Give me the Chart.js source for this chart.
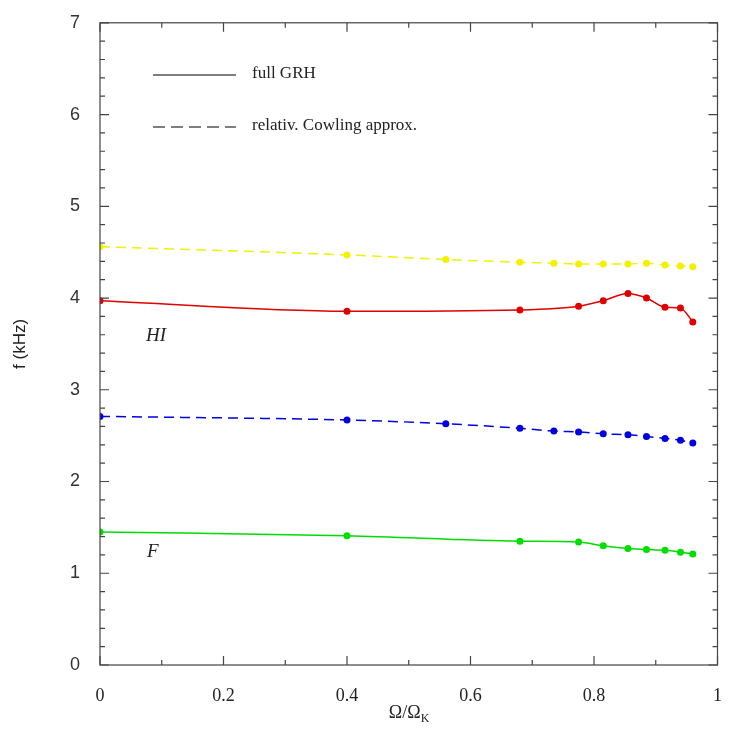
<!DOCTYPE html>
<html>
<head>
<meta charset="utf-8">
<script src="https://cdn.jsdelivr.net/npm/chart.js@4/dist/chart.umd.min.js"></script>
<style>
  html, body { margin: 0; padding: 0; background: #fff; }
  #wrap { width: 734px; height: 729px; }
</style>
</head>
<body>
<div id="wrap"><canvas id="freq-chart" width="734" height="729"></canvas></div>
<script>
// rotation rate over Kepler limit
var omega = [0, 0.4, 0.56, 0.68, 0.735, 0.775, 0.815, 0.855, 0.885, 0.915, 0.94, 0.96];
// frequencies in kHz (null = no point computed there)
var h1Cowling = [4.56, 4.47, 4.42, 4.39, 4.38, 4.37, 4.37, 4.37, 4.38, 4.36, 4.35, 4.34];
var h1Full = [3.97, 3.855, null, 3.87, null, 3.91, 3.97, 4.05, 4.00, 3.90, 3.89, 3.74];
var fCowling = [2.71, 2.67, 2.63, 2.58, 2.55, 2.54, 2.52, 2.51, 2.49, 2.47, 2.45, 2.42];
var fFull = [1.45, 1.41, null, 1.35, null, 1.34, 1.30, 1.27, 1.26, 1.25, 1.23, 1.21];
var xTicks = [0, 0.2, 0.4, 0.6, 0.8, 1];
var yTicks = [0, 1, 2, 3, 4, 5, 6, 7];

function pts(vals) {
    var out = [];
    for (var i = 0; i < omega.length; i++) {
        if (vals[i] !== null) out.push({x: omega[i], y: vals[i]});
    }
    return out;
}

function line(label, vals, color, dash) {
    return {
        label: label,
        data: pts(vals),
        borderColor: color,
        backgroundColor: color,
        borderWidth: 1.5,
        borderDash: dash,
        pointRadius: 3.5,
        pointBorderWidth: 0,
        cubicInterpolationMode: 'monotone'
    };
}

// inward ticks, frame, legend and labels
var decor = {
    id: 'decor',
    afterDraw: function(chart) {
        var ctx = chart.ctx;
        var a = chart.chartArea;
        var xs = chart.scales.x, ys = chart.scales.y;
        ctx.save();
        ctx.strokeStyle = '#444';
        ctx.lineWidth = 1.2;
        ctx.strokeRect(a.left, a.top, a.right - a.left, a.bottom - a.top);
        ctx.beginPath();
        for (var i = 0; i <= 10; i++) {
            var px = xs.getPixelForValue(i / 10);
            var len = (i % 2 === 0) ? 9 : 5;
            ctx.moveTo(px, a.bottom); ctx.lineTo(px, a.bottom - len);
            ctx.moveTo(px, a.top); ctx.lineTo(px, a.top + len);
        }
        for (var j = 0; j <= 35; j++) {
            var py = ys.getPixelForValue(j / 5);
            var l2 = (j % 5 === 0) ? 9 : 5;
            ctx.moveTo(a.left, py); ctx.lineTo(a.left + l2, py);
            ctx.moveTo(a.right, py); ctx.lineTo(a.right - l2, py);
        }
        ctx.stroke();

        // legend
        ctx.strokeStyle = '#000';
        ctx.lineWidth = 1.2;
        ctx.beginPath();
        ctx.moveTo(153, 75); ctx.lineTo(236, 75);
        ctx.stroke();
        ctx.setLineDash([12, 6]);
        ctx.beginPath();
        ctx.moveTo(153, 127); ctx.lineTo(236, 127);
        ctx.stroke();
        ctx.setLineDash([]);
        ctx.fillStyle = '#222';
        ctx.font = '17px "Liberation Serif"';
        ctx.textBaseline = 'middle';
        ctx.textAlign = 'left';
        ctx.fillText('full GRH', 252, 74);
        ctx.fillText('relativ. Cowling approx.', 252, 126);

        // mode labels
        ctx.font = 'italic 19px "Liberation Serif"';
        ctx.fillText('HI', 146, 336);
        ctx.fillText('F', 147, 552);

        // x title with subscript
        ctx.font = '18px "Liberation Serif"';
        ctx.textAlign = 'left';
        var t = '\u03A9/\u03A9';
        var w = ctx.measureText(t).width;
        var x0 = (a.left + a.right) / 2 - (w + 8) / 2;
        ctx.fillText(t, x0, 713);
        ctx.font = '12px "Liberation Serif"';
        ctx.fillText('K', x0 + w, 719);
        ctx.restore();
    }
};

new Chart(document.getElementById('freq-chart'), {
    type: 'line',
    data: {
        datasets: [
            line('H1 Cowling', h1Cowling, '#f2f200', [10, 6]),
            line('H1 full', h1Full, '#e00000', []),
            line('F Cowling', fCowling, '#0000e0', [10, 6]),
            line('F full', fFull, '#00dd00', [])
        ]
    },
    options: {
        responsive: false,
        animation: { duration: 0 },
        layout: { padding: { left: 0, right: 14, top: 20, bottom: 0 } },
        plugins: {
            legend: { display: false },
            tooltip: { enabled: false }
        },
        scales: {
            x: {
                type: 'linear',
                min: 0, max: 1,
                grid: { display: false },
                border: { display: false },
                afterBuildTicks: function(s) { s.ticks = xTicks.map(function(v) { return {value: v}; }); },
                afterFit: function(s) { s.height = 64; },
                ticks: {
                    padding: 12,
                    color: '#222',
                    font: { family: 'Liberation Serif', size: 18 },
                    callback: function(v) { return String(Math.round(v * 10) / 10); }
                }
            },
            y: {
                min: 0, max: 7,
                grid: { display: false },
                border: { display: false },
                afterBuildTicks: function(s) { s.ticks = yTicks.map(function(v) { return {value: v}; }); },
                afterFit: function(s) { s.width = 100; },
                title: {
                    display: true,
                    text: 'f (kHz)',
                    color: '#222',
                    font: { family: 'Liberation Sans', size: 17 },
                    padding: { top: 10, bottom: 20 }
                },
                ticks: {
                    padding: 12,
                    color: '#333',
                    font: { family: 'Liberation Sans', size: 18 }
                }
            }
        }
    },
    plugins: [decor]
});
</script>
</body>
</html>
